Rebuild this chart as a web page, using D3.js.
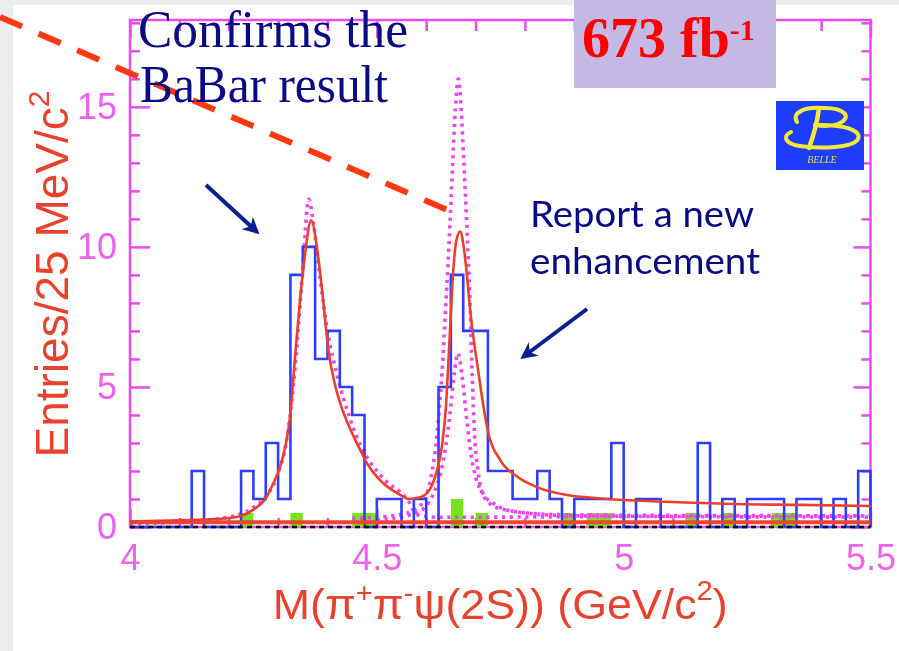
<!DOCTYPE html>
<html>
<head>
<meta charset="utf-8">
<script src="https://cdn.jsdelivr.net/npm/d3@7"></script>
<style>
  html, body { margin: 0; padding: 0; background: #ececef; }
  svg { display: block; }
</style>
</head>
<body>
<svg id="chart" width="899" height="651"></svg>
<script>
// ---- data -------------------------------------------------------------
// 60 bins of 25 MeV/c^2 between 4.0 and 5.5 GeV/c^2
const binLow = 4.0;
const binWidth = 0.025;
const counts = [
  0, 0, 0, 0, 0, 2, 0, 0, 0, 2,
  1, 3, 1, 9, 10, 6, 7, 5, 4, 0,
  1, 1, 0, 1, 0, 5, 9, 7, 7, 2,
  2, 1, 1, 2, 1, 0, 1, 1, 1, 3,
  0, 1, 1, 0, 0, 0, 3, 0, 1, 0,
  1, 1, 1, 0, 1, 1, 0, 1, 0, 2
];

// scaled sideband background (filled green)
const sidebandBins = [9, 13, 18, 19, 26, 28, 35, 37, 38, 45, 48, 52, 53];
const sidebandVals = [0.5, 0.5, 0.5, 0.5, 1.0, 0.5, 0.5, 0.5, 0.5, 0.5, 0.5, 0.5, 0.5];

// total fit (solid red), [mass, entries]
const fitTotal = [
  [4.00, 0.20], [4.10, 0.24], [4.15, 0.27], [4.20, 0.32], [4.223, 0.38], [4.25, 0.62],
  [4.277, 1.08], [4.29, 1.55], [4.304, 2.15], [4.315, 2.9], [4.324, 3.9], [4.334, 6.0],
  [4.345, 8.2], [4.355, 9.8], [4.367, 10.95], [4.38, 9.8], [4.39, 8.3], [4.402, 6.3],
  [4.415, 5.1], [4.43, 4.2], [4.446, 3.5], [4.465, 2.8], [4.48, 2.27], [4.513, 1.56],
  [4.547, 1.15], [4.565, 1.0], [4.585, 1.05], [4.601, 1.2], [4.612, 1.5], [4.622, 2.04],
  [4.632, 2.9], [4.640, 4.3], [4.647, 6.6], [4.655, 9.2], [4.662, 10.3], [4.669, 10.55],
  [4.676, 10.0], [4.683, 8.9], [4.689, 7.75], [4.697, 6.6], [4.706, 5.5], [4.716, 4.3],
  [4.726, 3.35], [4.75, 2.39], [4.784, 1.8], [4.831, 1.38], [4.885, 1.14], [4.953, 1.02],
  [5.088, 0.90], [5.223, 0.82], [5.358, 0.79], [5.50, 0.75]
];

// non-resonant background term of the fit (solid red, flat)
const fitBackground = [[4.00, 0.17], [5.50, 0.17]];

// resonance components (dotted magenta)
const compY4360 = [
  [4.00, 0.12], [4.10, 0.18], [4.20, 0.35], [4.25, 0.7], [4.28, 1.2], [4.30, 1.9],
  [4.32, 3.4], [4.335, 5.8], [4.35, 9.2], [4.362, 11.7], [4.372, 10.8], [4.385, 8.9],
  [4.40, 7.0], [4.42, 5.4], [4.445, 3.9], [4.47, 2.8], [4.50, 2.0], [4.527, 1.5],
  [4.547, 1.26], [4.565, 0.9], [4.58, 0.45], [4.62, 0.35], [4.70, 0.35], [5.00, 0.38],
  [5.50, 0.40]
];
const compY4660a = [
  [4.45, 0.30], [4.55, 0.45], [4.59, 0.8], [4.61, 1.8], [4.622, 3.3], [4.632, 5.5],
  [4.639, 7.7], [4.646, 10.0], [4.654, 13.1], [4.659, 14.9], [4.665, 16.0], [4.671, 14.9],
  [4.676, 13.1], [4.683, 10.5], [4.688, 8.4], [4.693, 5.5], [4.698, 3.3], [4.705, 2.0],
  [4.716, 1.1], [4.75, 0.65], [4.85, 0.45], [5.00, 0.42], [5.50, 0.40]
];
const compY4660b = [
  [4.50, 0.25], [4.58, 0.5], [4.615, 1.2], [4.635, 2.4], [4.648, 4.0], [4.657, 5.5],
  [4.664, 6.2], [4.672, 5.5], [4.68, 4.2], [4.69, 2.7], [4.70, 1.8], [4.715, 1.2],
  [4.74, 0.8], [4.78, 0.55], [4.90, 0.40], [5.50, 0.35]
];

// axis ticks
const xTicks = [4, 4.5, 5, 5.5];
const xTickLabels = ["4", "4.5", "5", "5.5"];
const yTicks = [0, 5, 10, 15];
const yTickLabels = ["0", "5", "10", "15"];

// ---- layout -----------------------------------------------------------
const W = 899, H = 651;
const frame = { left: 130, right: 870.5, top: 20, bottom: 527 };
const AXIS = "#ec4cec", TICKTXT = "#ee62ee", TITLE = "#e8432d";
const NAVY = "#0a0a84";

const svg = d3.select("#chart");
const x = d3.scaleLinear().domain([4, 5.5]).range([frame.left, frame.right]);
const y = d3.scaleLinear().domain([0, 18.1]).range([frame.bottom, frame.top]);

// slide background with white panel
svg.append("rect").attr("width", W).attr("height", H).attr("fill", "#ececef");
svg.append("rect").attr("x", 13).attr("y", 5).attr("width", W - 13).attr("height", H - 5).attr("fill", "#ffffff");

const defs = svg.append("defs");
defs.append("filter").attr("id", "soft")
  .attr("x", "-5%").attr("y", "-5%").attr("width", "110%").attr("height", "110%")
  .append("feGaussianBlur").attr("stdDeviation", 0.6);

const plot = svg.append("g").attr("filter", "url(#soft)");

// ---- axes -------------------------------------------------------------
function styleAxis(g) {
  g.select(".domain").remove();
  g.selectAll("line").attr("stroke", AXIS).attr("stroke-width", 2.5);
  g.selectAll("text")
    .attr("fill", TICKTXT)
    .attr("font-family", "'Liberation Sans', Arial, Helvetica, sans-serif")
    .attr("font-size", 36);
}
const isMajorX = v => xTicks.some(t => Math.abs(t - v) < 1e-6);
const xMinor = d3.range(41, 55).map(v => v / 10).filter(v => !isMajorX(v));
const yMinor = d3.range(1, 19).filter(v => v % 5 !== 0);

// bottom
plot.append("g").attr("transform", `translate(0,${frame.bottom})`)
  .call(d3.axisBottom(x).tickValues(xTicks).tickFormat((d, i) => xTickLabels[i])
    .tickSizeInner(-18).tickSizeOuter(0).tickPadding(17))
  .call(styleAxis);
plot.append("g").attr("transform", `translate(0,${frame.bottom})`)
  .call(d3.axisBottom(x).tickValues(xMinor).tickFormat("").tickSizeInner(-9).tickSizeOuter(0))
  .call(styleAxis);
// top
plot.append("g").attr("transform", `translate(0,${frame.top})`)
  .call(d3.axisTop(x).tickValues(xTicks).tickFormat("").tickSizeInner(-18).tickSizeOuter(0))
  .call(styleAxis);
plot.append("g").attr("transform", `translate(0,${frame.top})`)
  .call(d3.axisTop(x).tickValues(xMinor).tickFormat("").tickSizeInner(-11).tickSizeOuter(0))
  .call(styleAxis);
// left
plot.append("g").attr("transform", `translate(${frame.left},0)`)
  .call(d3.axisLeft(y).tickValues(yTicks).tickFormat((d, i) => yTickLabels[i])
    .tickSizeInner(-20).tickSizeOuter(0).tickPadding(13))
  .call(styleAxis);
plot.append("g").attr("transform", `translate(${frame.left},0)`)
  .call(d3.axisLeft(y).tickValues(yMinor).tickFormat("").tickSizeInner(-10).tickSizeOuter(0))
  .call(styleAxis);
// right
plot.append("g").attr("transform", `translate(${frame.right},0)`)
  .call(d3.axisRight(y).tickValues(yTicks).tickFormat("").tickSizeInner(-17).tickSizeOuter(0))
  .call(styleAxis);
plot.append("g").attr("transform", `translate(${frame.right},0)`)
  .call(d3.axisRight(y).tickValues(yMinor).tickFormat("").tickSizeInner(-9).tickSizeOuter(0))
  .call(styleAxis);

plot.append("rect")
  .attr("x", frame.left).attr("y", frame.top)
  .attr("width", frame.right - frame.left).attr("height", frame.bottom - frame.top)
  .attr("fill", "none").attr("stroke", AXIS).attr("stroke-width", 2.5);

// ---- marks ------------------------------------------------------------
const edge = i => binLow + i * binWidth;

// sideband background
plot.selectAll("rect.sideband")
  .data(sidebandBins.map((b, i) => ({ b, v: sidebandVals[i] })))
  .join("rect")
  .attr("class", "sideband")
  .attr("x", d => x(edge(d.b)))
  .attr("width", d => x(edge(d.b + 1)) - x(edge(d.b)))
  .attr("y", d => y(d.v))
  .attr("height", d => y(0) - y(d.v))
  .attr("fill", "#76e41e");

const smooth = d3.line().x(d => x(d[0])).y(d => y(d[1])).curve(d3.curveMonotoneX);

// resonance components
[compY4360, compY4660a, compY4660b].forEach(c => {
  plot.append("path").datum(c).attr("d", smooth)
    .attr("fill", "none").attr("stroke", "#ee44ee")
    .attr("stroke-width", 3.6).attr("stroke-dasharray", "3.2,4.6");
});

// histogram outline
const stepPts = counts.map((c, i) => [edge(i), c]);
stepPts.push([edge(counts.length), counts[counts.length - 1]]);
stepPts.push([edge(counts.length), 0]);
plot.append("path").datum(stepPts)
  .attr("d", d3.line().x(d => x(d[0])).y(d => y(d[1])).curve(d3.curveStepAfter))
  .attr("fill", "none").attr("stroke", "#2e3dff").attr("stroke-width", 2.6)
  .attr("stroke-linejoin", "miter");

// fit curves
plot.append("path").datum(fitBackground).attr("d", smooth)
  .attr("fill", "none").attr("stroke", "#ee4430").attr("stroke-width", 4);
plot.append("path").datum(fitTotal).attr("d", smooth)
  .attr("fill", "none").attr("stroke", "#e8402c").attr("stroke-width", 2.6);

// zero line
plot.append("line")
  .attr("x1", frame.left).attr("x2", frame.right)
  .attr("y1", y(0)).attr("y2", y(0))
  .attr("stroke", "#111").attr("stroke-width", 2.4).attr("stroke-dasharray", "5,4");

// ---- axis titles --------------------------------------------------------
const xt = plot.append("text")
  .attr("x", (frame.left + frame.right) / 2).attr("y", 619)
  .attr("text-anchor", "middle").attr("fill", TITLE)
  .attr("font-family", "'Liberation Sans', Arial, Helvetica, sans-serif")
  .attr("font-size", 43)
  .attr("textLength", 455).attr("lengthAdjust", "spacingAndGlyphs");
xt.append("tspan").text("M(π");
xt.append("tspan").attr("dy", -17).attr("font-size", 28).text("+");
xt.append("tspan").attr("dy", 17).text("π");
xt.append("tspan").attr("dy", -17).attr("font-size", 28).text("-");
xt.append("tspan").attr("dy", 17).text("ψ(2S)) (GeV/c");
xt.append("tspan").attr("dy", -19).attr("font-size", 28).text("2");
xt.append("tspan").attr("dy", 19).text(")");

const yt = plot.append("text")
  .attr("transform", "translate(68,274) rotate(-90)")
  .attr("text-anchor", "middle").attr("fill", TITLE)
  .attr("font-family", "'Liberation Sans', Arial, Helvetica, sans-serif")
  .attr("font-size", 46);
yt.append("tspan").text("Entries/25 MeV/c");
yt.append("tspan").attr("dy", -19).attr("font-size", 30).text("2");

// ---- annotations ------------------------------------------------------
const notes = svg.append("g");

// luminosity tag
notes.append("rect").attr("x", 574).attr("y", 0).attr("width", 202).attr("height", 88).attr("fill", "#c3b9e4");
const lum = notes.append("text").attr("x", 582).attr("y", 57)
  .attr("fill", "#ff0000").attr("font-weight", "bold")
  .attr("font-family", "'Liberation Serif', 'Times New Roman', serif").attr("font-size", 56);
lum.append("tspan").text("673 fb");
lum.append("tspan").attr("dy", -17).attr("font-size", 30).text("-1");

// experiment logo
const logo = notes.append("g");
logo.append("rect").attr("x", 776).attr("y", 101).attr("width", 88).attr("height", 69).attr("fill", "#1e3dff");
logo.append("path")
  .attr("d", "M797,122 C791,112 806,107 821,108 C846,107 853,118 838,124 C830,127 821,126 815,125 " +
             "M815,125 C846,124 862,131 858,139 C853,148 820,149 800,146 C785,144 782,136 791,132")
  .attr("fill", "none").attr("stroke", "#f2ea3a").attr("stroke-width", 4).attr("stroke-linecap", "round");
logo.append("path").attr("d", "M819,108 C817,124 813,137 809,148")
  .attr("fill", "none").attr("stroke", "#f2ea3a").attr("stroke-width", 4.5).attr("stroke-linecap", "round");
logo.append("text").attr("x", 822).attr("y", 163).attr("text-anchor", "middle")
  .attr("fill", "#e8df4a").attr("font-style", "italic")
  .attr("font-family", "'Liberation Serif', serif").attr("font-size", 10).text("BELLE");

// dashed guide line
notes.append("line").attr("x1", 0).attr("y1", 17).attr("x2", 450).attr("y2", 211)
  .attr("stroke", "#ff3a12").attr("stroke-width", 6).attr("stroke-dasharray", "24,18");

// text notes
const serifNote = notes.append("g").attr("fill", NAVY)
  .attr("font-family", "'Liberation Serif', 'Times New Roman', serif").attr("font-size", 52);
serifNote.append("text").attr("x", 138).attr("y", 47)
  .attr("textLength", 270).attr("lengthAdjust", "spacingAndGlyphs").text("Confirms the");
serifNote.append("text").attr("x", 140).attr("y", 102)
  .attr("textLength", 248).attr("lengthAdjust", "spacingAndGlyphs").text("BaBar result");

const sansNote = notes.append("g").attr("fill", NAVY)
  .attr("font-family", "Lato, 'Open Sans', sans-serif").attr("font-size", 37);
sansNote.append("text").attr("x", 530).attr("y", 227)
  .attr("textLength", 224).attr("lengthAdjust", "spacingAndGlyphs").text("Report a new");
sansNote.append("text").attr("x", 530).attr("y", 274)
  .attr("textLength", 230).attr("lengthAdjust", "spacingAndGlyphs").text("enhancement");

// arrows
defs.append("marker").attr("id", "head")
  .attr("viewBox", "0 0 10 10").attr("refX", 8).attr("refY", 5)
  .attr("markerWidth", 4.2).attr("markerHeight", 4.2).attr("orient", "auto")
  .append("path").attr("d", "M0,0 L10,5 L0,10 L3,5 Z").attr("fill", "#0b1f90");
notes.append("line").attr("x1", 206).attr("y1", 185).attr("x2", 257).attr("y2", 232)
  .attr("stroke", "#0b1f90").attr("stroke-width", 4).attr("marker-end", "url(#head)");
notes.append("line").attr("x1", 587).attr("y1", 309).attr("x2", 523).attr("y2", 357)
  .attr("stroke", "#0b1f90").attr("stroke-width", 4).attr("marker-end", "url(#head)");
</script>
</body>
</html>
